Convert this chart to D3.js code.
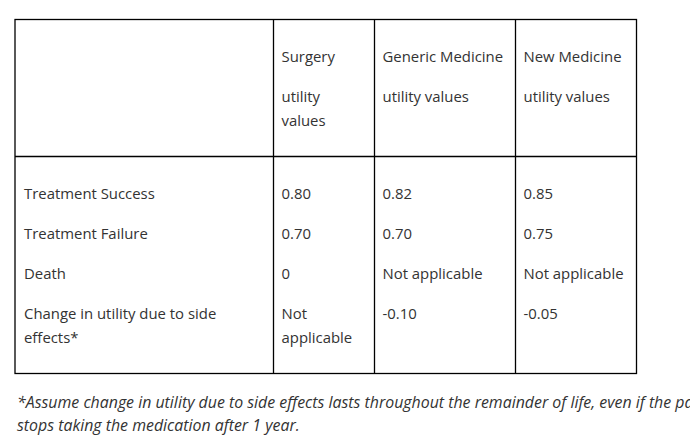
<!DOCTYPE html>
<html>
<head>
<meta charset="utf-8">
<script src="https://cdn.jsdelivr.net/npm/d3@7"></script>
<style>
  body { margin: 0; background: #fff; }
  svg { display: block; }
</style>
</head>
<body>
<div id="chart"></div>
<script>
// table content
var columns = ["", "Surgery", "Generic Medicine", "New Medicine"];
var subHeaders = ["", ["utility", "values"], ["utility values"], ["utility values"]];
var rowLabels = ["Treatment Success", "Treatment Failure", "Death", ["Change in utility due to side", "effects*"]];
var surgery = ["0.80", "0.70", "0", ["Not", "applicable"]];
var generic = ["0.82", "0.70", "Not applicable", "-0.10"];
var newMed = ["0.85", "0.75", "Not applicable", "-0.05"];
var footnote = [
  "*Assume change in utility due to side effects lasts throughout the remainder of life, even if the patient",
  "stops taking the medication after 1 year."
];

var width = 690, height = 446;
var textColor = "#333";
var font = "'Open Sans', sans-serif";

var svg = d3.select("#chart").append("svg")
    .attr("width", width).attr("height", height);

// column edges
var colEdges = [15, 273.5, 374.5, 515.5, 636.5];
var tableTop = 19.5, headBottom = 156.5, tableBottom = 373.5;
var pad = 8;

// rows of the body placed with a point scale
var bodyRows = rowLabels.map(function(d, i){ return i; });
var yBody = d3.scalePoint().domain(bodyRows).range([193, 313]);

function lines(v){ return Array.isArray(v) ? v : [v]; }

// borders
var grid = svg.append("g").attr("stroke", "#000").attr("stroke-width", 1.3).attr("fill", "none");
grid.append("rect")
    .attr("x", colEdges[0]).attr("y", tableTop)
    .attr("width", colEdges[4] - colEdges[0]).attr("height", tableBottom - tableTop);
grid.selectAll(".vline").data(colEdges.slice(1, 4)).enter().append("line")
    .attr("x1", function(d){ return d; }).attr("x2", function(d){ return d; })
    .attr("y1", tableTop).attr("y2", tableBottom);
grid.append("line")
    .attr("x1", colEdges[0]).attr("x2", colEdges[4])
    .attr("y1", headBottom).attr("y2", headBottom);

var txt = svg.append("g")
    .attr("font-family", font).attr("font-size", 14.9)
    .attr("fill", textColor).attr("dominant-baseline", "central");

// header
columns.forEach(function(c, i){
  if (!c) return;
  var x = colEdges[i] + pad;
  txt.append("text").attr("x", x).attr("y", 56).text(c);
  lines(subHeaders[i]).forEach(function(l, j){
    txt.append("text").attr("x", x).attr("y", 96 + j * 24).text(l);
  });
});

// body
var cols = [rowLabels, surgery, generic, newMed];
cols.forEach(function(col, ci){
  col.forEach(function(v, ri){
    lines(v).forEach(function(l, j){
      txt.append("text")
        .attr("x", colEdges[ci] + pad + (ci === 0 ? 1 : 0))
        .attr("y", yBody(ri) + j * 24)
        .text(l);
    });
  });
});

// footnote
svg.append("g")
    .attr("font-family", "'Open Sans', sans-serif").attr("font-size", 15.9)
    .attr("font-style", "italic").attr("fill", textColor)
    .attr("dominant-baseline", "central")
  .selectAll("text").data(footnote).enter().append("text")
    .attr("x", 17).attr("y", function(d, i){ return 402 + i * 23; })
    .text(function(d){ return d; });
</script>
</body>
</html>
